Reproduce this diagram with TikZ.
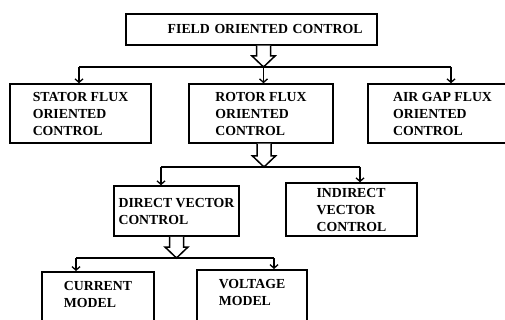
\documentclass[tikz,border=0pt]{standalone}
\usepackage{fontspec}
\setmainfont{Liberation Serif}
\usetikzlibrary{%
	arrows.meta,%
	calc
}

\tikzset{
	box/.style={draw, line width=1.5pt, align=left, inner sep=0pt,
		font=\bfseries\fontsize{13.8}{17}\selectfont},
	hollow/.style={draw, line width=1.5pt, line join=miter, fill=white},
	link/.style={line width=1.3pt, -{Straight Barb[length=3.5pt,width=8pt]}}
}

% hollow block arrow from #1 (tail) down to #2 (tip)
\newcommand{\hollowarrow}[2]{%
	\draw[hollow] ($(#2 |- #1)+(-7,0)$) -- ($(#2)+(-7,-11)$) -- ($(#2)+(-11.5,-11)$) -- (#2)
		-- ($(#2)+(11.5,-11)$) -- ($(#2)+(7,-11)$) -- ($(#2 |- #1)+(7,0)$);}

\begin{document}
\begin{tikzpicture}[x=1pt,y=-1pt]
				\clip (0,0) rectangle (505,320);
				
				% Boxes
				\node[box, minimum width=251pt, minimum height=31pt, text width=222pt, align=right] (foc) at (251.5,29.5) {FIELD ORIENTED CONTROL};
				\node[box, minimum width=141pt, minimum height=59pt] (sfoc) at (80.5,113.5) {STATOR FLUX\\ORIENTED\\CONTROL};
				\node[box, minimum width=144pt, minimum height=59pt] (rfoc) at (261,113.5) {ROTOR FLUX\\ORIENTED\\CONTROL};
				\node[box, minimum width=149pt, minimum height=59pt] (afoc) at (442.5,113.5) {AIR GAP FLUX\\ORIENTED\\CONTROL};
				\node[box, minimum width=125pt, minimum height=50pt] (dvc) at (176.5,211) {DIRECT VECTOR\\CONTROL};
				\node[box, minimum width=131pt, minimum height=53pt] (ivc) at (351.5,209.5) {INDIRECT\\VECTOR\\CONTROL};
				\node[box, minimum width=112pt, anchor=north, inner ysep=10pt, text depth=50pt] (cm) at (98,271) {CURRENT\\MODEL};
				\node[box, minimum width=110pt, anchor=north, inner ysep=10pt, text depth=50pt] (vm) at (252,269) {VOLTAGE\\MODEL};
				
				% Junctions
				\coordinate (b1) at (263.5,67);
				\coordinate (b1l) at (79,67);
				\coordinate (b1r) at (451,67);
				\coordinate (b2) at (264,167);
				\coordinate (b2l) at (161,167);
				\coordinate (b2r) at (360,167);
				\coordinate (b3) at (176.5,258);
				\coordinate (b3l) at (76,258);
				\coordinate (b3r) at (274,258);
				
				% Bars
				\draw[line width=1.3pt] (b1l) -- (b1r);
				\draw[line width=1.3pt] (b2l) -- (b2r);
				\draw[line width=1.3pt] (b3l) -- (b3r);
				
				% Hollow arrows
				\hollowarrow{foc.south}{b1}
				\hollowarrow{rfoc.south}{b2}
				\hollowarrow{dvc.south}{b3}
				
				% Drops
				\draw[link] (b1l) -- (b1l |- sfoc.north);
				\draw[link] (b1) -- (b1 |- rfoc.north);
				\draw[link] (b1r) -- (b1r |- afoc.north);
				\draw[link] (b2l) -- (b2l |- dvc.north);
				\draw[link] (b2r) -- (b2r |- ivc.north);
				\draw[link] (b3l) -- (b3l |- cm.north);
				\draw[link] (b3r) -- (b3r |- vm.north);
			\end{tikzpicture}
\end{document}
